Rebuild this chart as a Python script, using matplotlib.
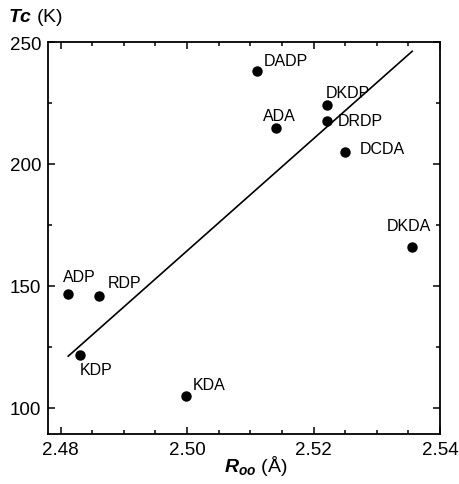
import numpy as np
import matplotlib.pyplot as plt
from matplotlib.ticker import MultipleLocator

plt.rcParams['font.family'] = ['Liberation Sans', 'DejaVu Sans']
plt.rcParams['mathtext.fontset'] = 'custom'
plt.rcParams['mathtext.it'] = 'Liberation Sans:bold:italic'
plt.rcParams['mathtext.rm'] = 'Liberation Sans'

# data
names = ['DADP', 'DKDP', 'ADA', 'DRDP', 'DCDA', 'DKDA', 'ADP', 'RDP', 'KDP', 'KDA']
r_oo = [2.5110, 2.5221, 2.5140, 2.5221, 2.5250, 2.5355, 2.4811, 2.4861, 2.4830, 2.4999]
tc = [238.0, 224.0, 214.7, 217.7, 205.0, 166.0, 146.8, 145.8, 121.8, 104.8]

# fitted line end points
fit_x = [2.4812, 2.5356]
fit_y = [121.2, 246.2]

# label placement (offset in pixels, horizontal alignment)
label_pos = {
    'DADP': (7, 11, 'left'),
    'DKDP': (-1, 13, 'left'),
    'ADA': (4, 13, 'center'),
    'DRDP': (11, 0, 'left'),
    'DCDA': (15, 3, 'left'),
    'DKDA': (-3, 21, 'center'),
    'ADP': (-5, 17, 'left'),
    'RDP': (9, 14, 'left'),
    'KDP': (0, -15, 'left'),
    'KDA': (6, 12, 'left'),
}

fig = plt.figure(figsize=(4.59, 4.85), dpi=100)
ax = fig.add_axes([48 / 459, 50 / 485, 392 / 459, 392 / 485])

ax.plot(fit_x, fit_y, color='black', lw=1.2)
ax.plot(r_oo, tc, 'o', color='black', markersize=6.5)

for n, x, y in zip(names, r_oo, tc):
    dx, dy, ha = label_pos[n]
    ax.annotate(n, (x, y), xytext=(dx, dy), textcoords='offset pixels',
                ha=ha, va='center', fontsize=11.5)

ax.set_xlim(2.478, 2.54)
ax.set_ylim(89.3, 250)
ax.xaxis.set_major_locator(MultipleLocator(0.02))
ax.xaxis.set_minor_locator(MultipleLocator(0.005))
ax.yaxis.set_major_locator(MultipleLocator(50))
ax.yaxis.set_minor_locator(MultipleLocator(25))
ax.set_xticks([2.48, 2.50, 2.52, 2.54])
ax.set_xticklabels(['2.48', '2.50', '2.52', '2.54'])
ax.tick_params(which='both', direction='in', top=True, right=True,
               labelsize=13.5, width=1.1)
ax.tick_params(which='major', length=5, pad=5)
ax.tick_params(which='minor', length=3)
for s in ax.spines.values():
    s.set_linewidth(1.3)

fig.text(8 / 459, 1 - 17 / 485, r'$Tc$ (K)', fontsize=14, ha='left', va='center')
fig.text(256 / 459, 1 - 466 / 485, r'$R_{oo}$ (Å)', fontsize=14, ha='center', va='center')

fig.savefig('out.png', dpi=100)
